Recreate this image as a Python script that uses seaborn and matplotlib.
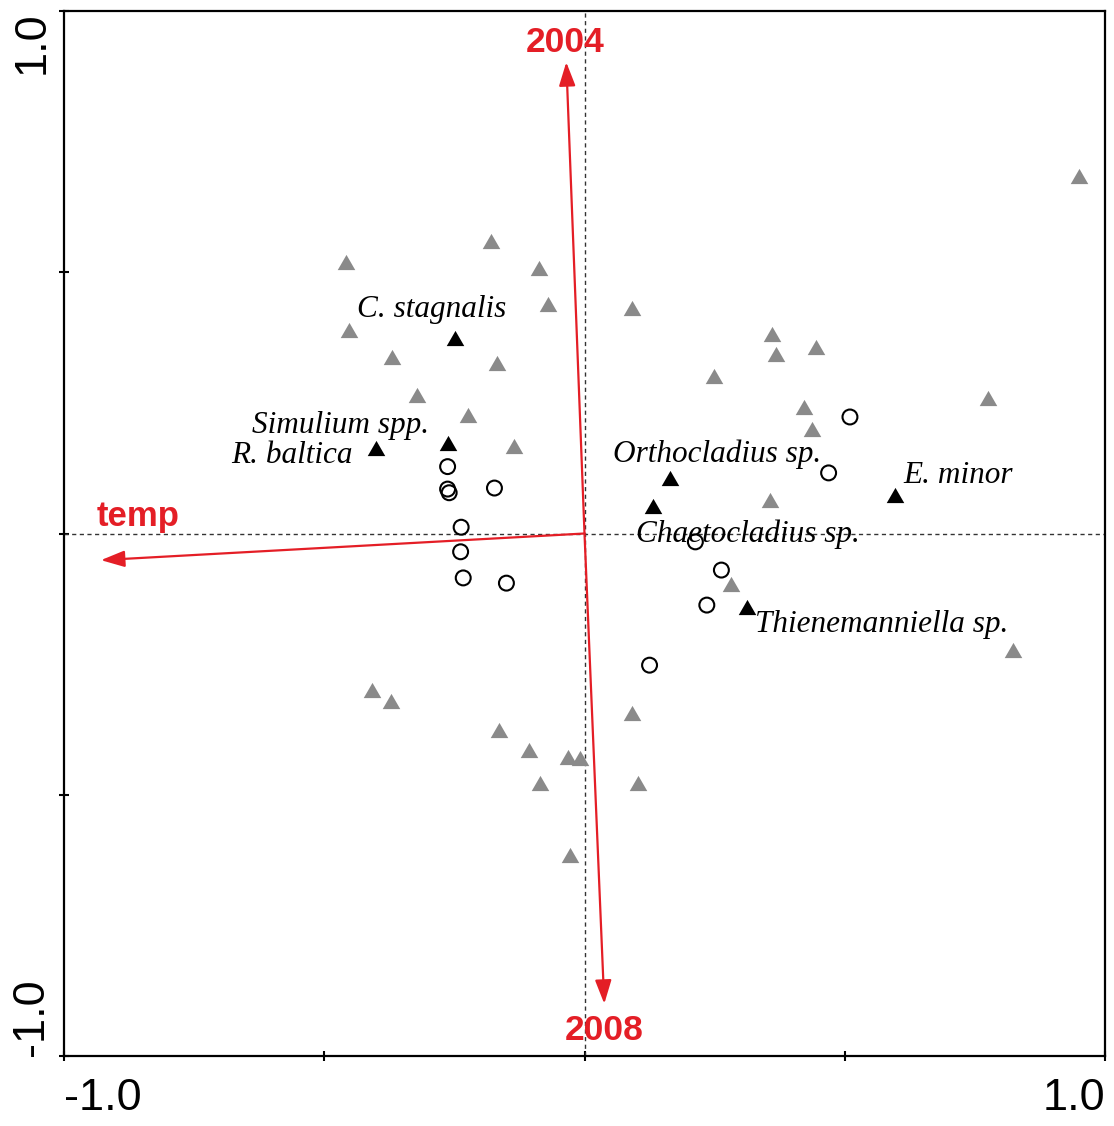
import matplotlib
matplotlib.use("Agg")
import matplotlib.pyplot as plt
import seaborn as sns
import pandas as pd

# Ordination scores (axis 1, axis 2)
other_taxa_x = [0.950, -0.179, -0.458, -0.087, -0.071, 0.092, -0.452, -0.369, -0.169,
                0.360, 0.367, 0.444, 0.248, -0.321, -0.223, 0.421, 0.438, -0.135,
                0.775, 0.356, 0.281, 0.823, -0.408, -0.371, -0.165, -0.106, -0.031,
                -0.008, -0.085, 0.092, 0.102, -0.027]
other_taxa_y = [0.684, 0.560, 0.519, 0.509, 0.440, 0.431, 0.390, 0.338, 0.327,
                0.381, 0.344, 0.356, 0.302, 0.266, 0.227, 0.243, 0.200, 0.168,
                0.260, 0.064, -0.097, -0.223, -0.300, -0.321, -0.377, -0.415, -0.428,
                -0.430, -0.477, -0.344, -0.477, -0.616]

key_taxa = ["C. stagnalis", "Simulium spp.", "R. baltica", "Orthocladius sp.",
            "Chaetocladius sp.", "E. minor", "Thienemanniella sp."]
key_taxa_x = [-0.248, -0.262, -0.400, 0.165, 0.131, 0.596, 0.312]
key_taxa_y = [0.375, 0.174, 0.164, 0.106, 0.053, 0.074, -0.141]
key_label_x = [-0.437, -0.638, -0.679, 0.054, 0.098, 0.612, 0.327]
key_label_y = [0.415, 0.193, 0.135, 0.137, -0.016, 0.097, -0.189]

sites_x = [-0.263, -0.263, -0.260, -0.173, -0.237, -0.238, -0.233, -0.150,
           0.510, 0.469, 0.213, 0.263, 0.235, 0.125]
sites_y = [0.128, 0.085, 0.078, 0.087, 0.012, -0.035, -0.085, -0.095,
           0.223, 0.116, -0.016, -0.070, -0.137, -0.252]

# Explanatory variables (arrow tips) and their labels
env_names = ["2004", "2008", "temp"]
env_x = [-0.035, 0.038, -0.929]
env_y = [0.902, -0.900, -0.051]
env_label_x = [-0.038, 0.037, -0.937]
env_label_y = [0.940, -0.952, 0.014]

RED = "#e41e26"
GREY = "#8a8a8a"

sns.set_theme(style="ticks")
plt.rcParams["font.family"] = ["Liberation Sans", "DejaVu Sans"]

fig = plt.figure(figsize=(11.14, 11.26), dpi=100)
ax = fig.add_axes([64 / 1114, 70 / 1126, (1105 - 64) / 1114, (1056 - 11) / 1126])

ax.axhline(0, color="#333333", lw=1, ls=(0, (3, 2.5)), zorder=1)
ax.axvline(0, color="#333333", lw=1, ls=(0, (3, 2.5)), zorder=1)

tri = [(-1, -0.866), (1, -0.866), (0, 0.866)]

other_df = pd.DataFrame({"x": other_taxa_x, "y": other_taxa_y})
key_df = pd.DataFrame({"x": key_taxa_x, "y": key_taxa_y, "taxon": key_taxa})
site_df = pd.DataFrame({"x": sites_x, "y": sites_y})

sns.scatterplot(data=other_df, x="x", y="y", marker=tri, s=160, color=GREY,
                linewidth=0, ax=ax, zorder=3)
sns.scatterplot(data=key_df, x="x", y="y", marker=tri, s=160, color="black",
                linewidth=0, ax=ax, zorder=3)
sns.scatterplot(data=site_df, x="x", y="y", marker="o", s=115, facecolor="none",
                edgecolor="black", linewidth=1.5, ax=ax, zorder=3)

for name, lx, ly in zip(key_taxa, key_label_x, key_label_y):
    ax.text(lx, ly, name, fontsize=22.5, fontstyle="italic",
            family=["Liberation Serif", "DejaVu Serif"],
            ha="left", va="baseline", color="black", zorder=4)

for name, tx, ty, lx, ly in zip(env_names, env_x, env_y, env_label_x, env_label_y):
    ax.annotate("", xy=(tx, ty), xytext=(0, 0),
                arrowprops=dict(arrowstyle="-|>,head_length=0.72,head_width=0.25",
                                mutation_scale=20, color=RED, lw=1.6,
                                shrinkA=0, shrinkB=0), zorder=2)
    if name == "temp":
        ax.text(lx, ly, name, color=RED, fontsize=25, fontweight="bold",
                ha="left", va="baseline", zorder=4)
    else:
        ax.text(lx, ly, name, color=RED, fontsize=25.5, fontweight="bold",
                ha="center", va="center", zorder=4)

ax.set_xlim(-1, 1)
ax.set_ylim(-1, 1)
ticks = [-1, -0.5, 0, 0.5, 1]
ax.set_xticks(ticks)
ax.set_yticks(ticks)
ax.set_xticklabels(["-1.0", "", "", "", "1.0"], fontsize=32.5)
ax.set_yticklabels(["-1.0", "", "", "", "1.0"], fontsize=32.5, rotation=90)
ax.set_xlabel("")
ax.set_ylabel("")

xl = ax.get_xticklabels()
xl[0].set_ha("left")
xl[-1].set_ha("right")
yl = ax.get_yticklabels()
yl[0].set_va("bottom")
yl[-1].set_va("top")

ax.tick_params(axis="both", direction="inout", length=7, width=1.5, color="black",
               labelcolor="black")
ax.tick_params(axis="x", pad=12)
ax.tick_params(axis="y", pad=5)

for sp in ax.spines.values():
    sp.set_visible(True)
    sp.set_color("black")
    sp.set_linewidth(1.6)

fig.savefig("out.png", dpi=100, facecolor="white")
